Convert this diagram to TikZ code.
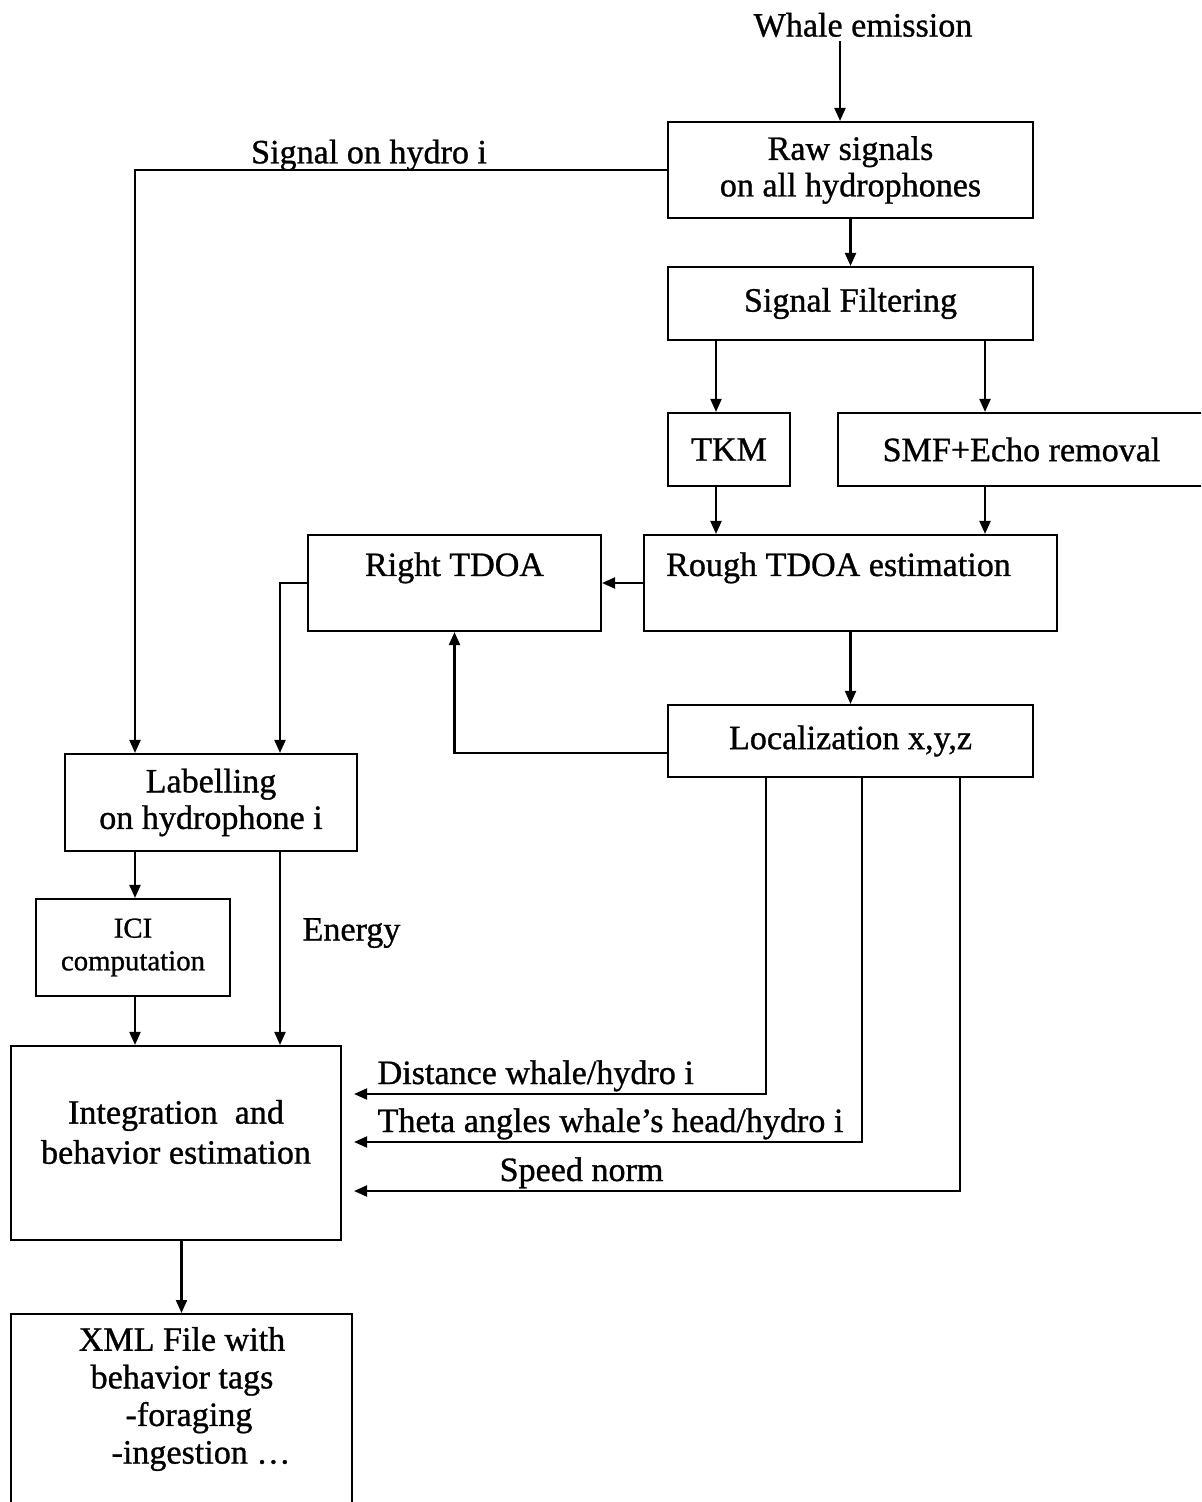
\documentclass[tikz,border=0pt]{standalone}
\usepackage{fontspec}
\setmainfont{Liberation Serif}[BoldFont=Liberation Serif, BoldFeatures={FakeBold=0.9}]
\usepackage{tikz}
\usetikzlibrary{arrows.meta,positioning,calc}

\begin{document}
\begin{tikzpicture}[
    font=\fontsize{9.7}{10.4}\selectfont\bfseries,
    box/.style={draw, line width=0.6pt, rectangle, inner sep=1pt, align=center},
    hightext/.style={text height=0.24cm, text depth=0.38cm},
    arr/.style={line width=0.6pt, -{Triangle[length=1.3mm, width=1.1mm]}},
    wire/.style={line width=0.6pt},
    lbl/.style={inner sep=1pt}
  ]
  \useasboundingbox (0,0) rectangle (12.01,-15.02);
  \clip (0,0) rectangle (12.01,-15.02);

  % detection chain
  \node[lbl] (whale) at (8.63,-0.25) {Whale emission};
  \node[box, minimum width=3.65cm, minimum height=0.96cm] (raw) at (8.505,-1.70) {Raw signals\\on all hydrophones};
  \node[box, minimum width=3.65cm, minimum height=0.73cm] (filt) at (8.505,-3.035) {Signal Filtering};
  \node[box, minimum width=1.22cm, minimum height=0.73cm] (tkm) at (7.29,-4.495) {TKM};
  \node[box, minimum width=3.67cm, minimum height=0.73cm] (smf) at (10.215,-4.495) {SMF+Echo removal};
  \node[box, hightext, minimum width=4.13cm, minimum height=0.96cm] (rough) at (8.505,-5.83) {Rough TDOA estimation\hspace*{0.24cm}};
  \node[box, hightext, minimum width=2.93cm, minimum height=0.96cm] (right) at (4.545,-5.83) {Right TDOA};
  \node[box, minimum width=3.65cm, minimum height=0.72cm] (loc) at (8.505,-7.41) {Localization x,y,z};

  % behavior chain
  \node[box, minimum width=2.92cm, minimum height=0.97cm] (label) at (2.11,-8.025) {Labelling\\on hydrophone i};
  \node[box, font=\fontsize{8.2}{9.3}\selectfont\bfseries, minimum width=1.94cm, minimum height=0.97cm] (ici) at (1.33,-9.475) {ICI\\computation};
  \node[box, minimum width=3.30cm, minimum height=1.94cm] (integ) at (1.76,-11.43) {};
  \node[lbl, align=center, font=\fontsize{9.7}{11.4}\selectfont\bfseries] (integtxt) at (1.76,-11.32) {Integration\ \ and\\behavior estimation};
  \node[box, anchor=north, minimum width=3.41cm, minimum height=2.2cm] (xml) at (1.815,-13.13) {};
  \node[lbl, align=center, font=\fontsize{9.7}{10.7}\selectfont\bfseries] (xmltxt) at (1.82,-13.99) {XML File with\\behavior tags\\\hspace*{0.14cm}-foraging\\\hspace*{0.38cm}-ingestion …};

  % helper points
  \coordinate (w1) at ([xshift=-1.05mm]raw.north);
  \coordinate (t1) at ([xshift=-1.3mm]tkm.north);
  \coordinate (s1) at ([xshift=-3.65mm]smf.north);
  \coordinate (l1) at ([xshift=-7.6mm]label.north);
  \coordinate (l2) at ([xshift=6.9mm]label.north);
  \coordinate (d1) at ([xshift=-8.45mm]loc.south);
  \coordinate (d2) at ([xshift=1.15mm]loc.south);
  \coordinate (d3) at ([xshift=10.95mm]loc.south);
  \coordinate (in1) at ([yshift=4.9mm]integ.east);
  \coordinate (in2) at ([yshift=0.1mm]integ.east);
  \coordinate (in3) at ([yshift=-4.8mm]integ.east);

  % connectors
  \draw[arr] (w1 |- whale.south) -- (w1);
  \draw[arr] (raw) -- (filt);
  \draw[arr] (t1 |- filt.south) -- (t1);
  \draw[arr] (s1 |- filt.south) -- (s1);
  \draw[arr] (t1 |- tkm.south) -- (t1 |- rough.north);
  \draw[arr] (s1 |- smf.south) -- (s1 |- rough.north);
  \draw[arr] (rough) -- (right);
  \draw[arr] (rough) -- (loc);
  \draw[arr] ([yshift=-1.2mm]loc.west) -| (right.south);
  \draw[arr] (raw.west) -| node[lbl, pos=0.28, above=-1.5pt] {Signal on hydro i} (l1);
  \draw[arr] (right.west) -| (l2);
  \draw[arr] (l1 |- label.south) -- (l1 |- ici.north);
  \draw[arr] (l2 |- label.south) -- node[lbl, right=0.18cm, pos=0.42] {Energy} (l2 |- integ.north);
  \draw[arr] (l1 |- ici.south) -- (l1 |- integ.north);
  \draw[arr, shorten >=1.2mm] (d1) |- node[lbl, pos=1, anchor=base west, xshift=3.1mm, yshift=1mm] {Distance whale/hydro i} (in1);
  \draw[arr, shorten >=1.2mm] (d2) |- node[lbl, pos=1, anchor=base west, xshift=3.1mm, yshift=1mm] {Theta angles whale’s head/hydro i} (in2);
  \draw[arr, shorten >=1.2mm] (d3) |- node[lbl, pos=1, anchor=base west, xshift=15.3mm, yshift=1mm] {Speed norm} (in3);
  \draw[arr] (xml.north |- integ.south) -- (xml.north);
\end{tikzpicture}
\end{document}
